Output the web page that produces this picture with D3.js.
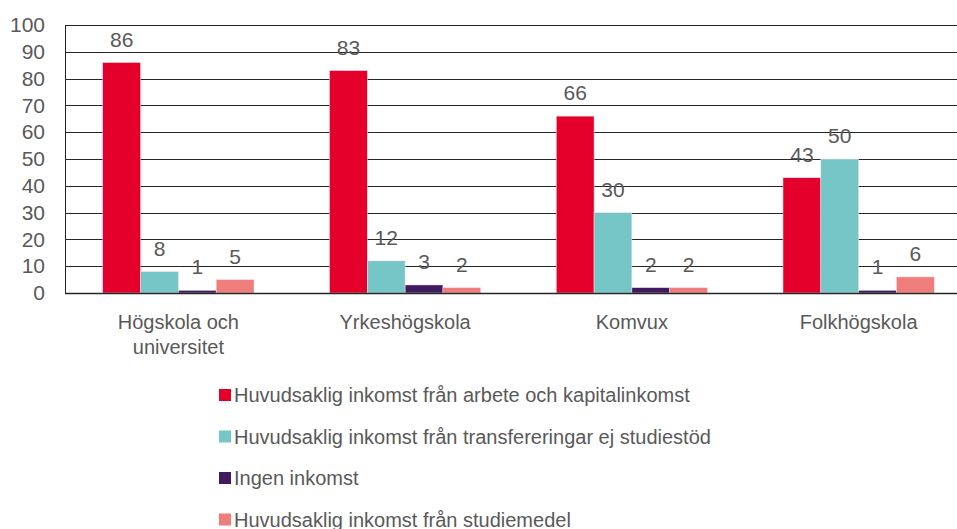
<!DOCTYPE html>
<html>
<head>
<meta charset="utf-8">
<script src="https://cdn.jsdelivr.net/npm/d3@7"></script>
<style>
  body { margin: 0; background: #fff; }
  svg text { font-family: "Liberation Sans", Arial, sans-serif; fill: #595959; }
</style>
</head>
<body>
<div id="chart"></div>
<script>

var categories = [["Högskola och", "universitet"], ["Yrkeshögskola"], ["Komvux"], ["Folkhögskola"]];
var seriesNames = [
	"Huvudsaklig inkomst från arbete och kapitalinkomst",
	"Huvudsaklig inkomst från transfereringar ej studiestöd",
	"Ingen inkomst",
	"Huvudsaklig inkomst från studiemedel"
];
var arbete = [86, 83, 66, 43];
var transfer = [8, 12, 30, 50];
var ingen = [1, 3, 2, 1];
var studiemedel = [5, 2, 2, 6];
var yTicks = [0, 10, 20, 30, 40, 50, 60, 70, 80, 90, 100];

var colors = ["#e4002b", "#76c6c8", "#3f1a5e", "#ee7d7b"];
var series = [arbete, transfer, ingen, studiemedel];

var w = 957, h = 529;
var plotLeft = 65, plotRight = 972, plotTop = 25, plotBottom = 293;
var fontSize = "20px";

var svg = d3.select("#chart")
	.append("svg")
	.attr("width", w)
	.attr("height", h);

var xScale = d3.scaleBand()
	.domain(d3.range(categories.length))
	.range([plotLeft, plotRight])
	.paddingInner(0.333)
	.paddingOuter(0.1665);

var xInner = d3.scaleBand()
	.domain(d3.range(series.length))
	.range([0, xScale.bandwidth()]);

var yScale = d3.scaleLinear()
	.domain([0, 100])
	.range([plotBottom, plotTop]);

// gridlines
svg.append("g")
	.selectAll("line.grid")
	.data(yTicks)
	.enter()
	.append("line")
	.attr("class", "grid")
	.attr("x1", plotLeft)
	.attr("x2", w)
	.attr("y1", d => Math.round(yScale(d)) + 0.5)
	.attr("y2", d => Math.round(yScale(d)) + 0.5)
	.attr("stroke", "#262626")
	.attr("stroke-width", 1);

// y axis labels
var yAxis = d3.axisLeft(yScale).tickValues(yTicks).tickSize(0).tickPadding(20);
var yg = svg.append("g")
	.attr("transform", "translate(" + plotLeft + ",0)")
	.call(yAxis);
yg.select(".domain").attr("stroke", "#262626");
yg.selectAll("text").style("font-size", "21px").attr("fill", "#595959");

// bars
var groups = svg.append("g")
	.selectAll("g.group")
	.data(series)
	.enter()
	.append("g")
	.attr("class", "group");

groups.each(function(values, si) {

	var g = d3.select(this);

	g.selectAll("rect")
		.data(values)
		.enter()
		.append("rect")
		.attr("x", (d, i) => xScale(i) + xInner(si))
		.attr("y", d => yScale(d))
		.attr("width", xInner.bandwidth())
		.attr("height", d => yScale(0) - yScale(d))
		.attr("fill", colors[si])
		.attr("stroke", "#fbe3e6")
		.attr("stroke-width", 0.5);

	g.selectAll("text")
		.data(values)
		.enter()
		.append("text")
		.attr("x", (d, i) => xScale(i) + xInner(si) + xInner.bandwidth() / 2)
		.attr("y", d => yScale(d) - 16)
		.attr("text-anchor", "middle")
		.style("font-size", "21px")
		.text(d => d);

});

// x axis line
svg.append("line")
	.attr("x1", plotLeft)
	.attr("x2", w)
	.attr("y1", plotBottom + 0.5)
	.attr("y2", plotBottom + 0.5)
	.attr("stroke", "#262626")
	.attr("stroke-width", 1.5);

// category labels
svg.append("g")
	.selectAll("text.cat")
	.data(categories)
	.enter()
	.append("text")
	.attr("class", "cat")
	.attr("text-anchor", "middle")
	.style("font-size", fontSize)
	.each(function(lines, i) {
		var t = d3.select(this);
		lines.forEach(function(line, j) {
			t.append("tspan")
				.attr("x", xScale(i) + xScale.bandwidth() / 2)
				.attr("y", 329 + j * 25)
				.text(line);
		});
	});

// legend
var legend = svg.append("g")
	.selectAll("g.legend")
	.data(seriesNames)
	.enter()
	.append("g")
	.attr("class", "legend")
	.attr("transform", (d, i) => "translate(219," + (395 + i * 41.5) + ")");

legend.append("rect")
	.attr("x", 0)
	.attr("y", -6)
	.attr("width", 12)
	.attr("height", 12)
	.attr("fill", (d, i) => colors[i]);

legend.append("text")
	.attr("x", 15)
	.attr("y", 7)
	.style("font-size", fontSize)
	.text(d => d);

</script>
</body>
</html>
